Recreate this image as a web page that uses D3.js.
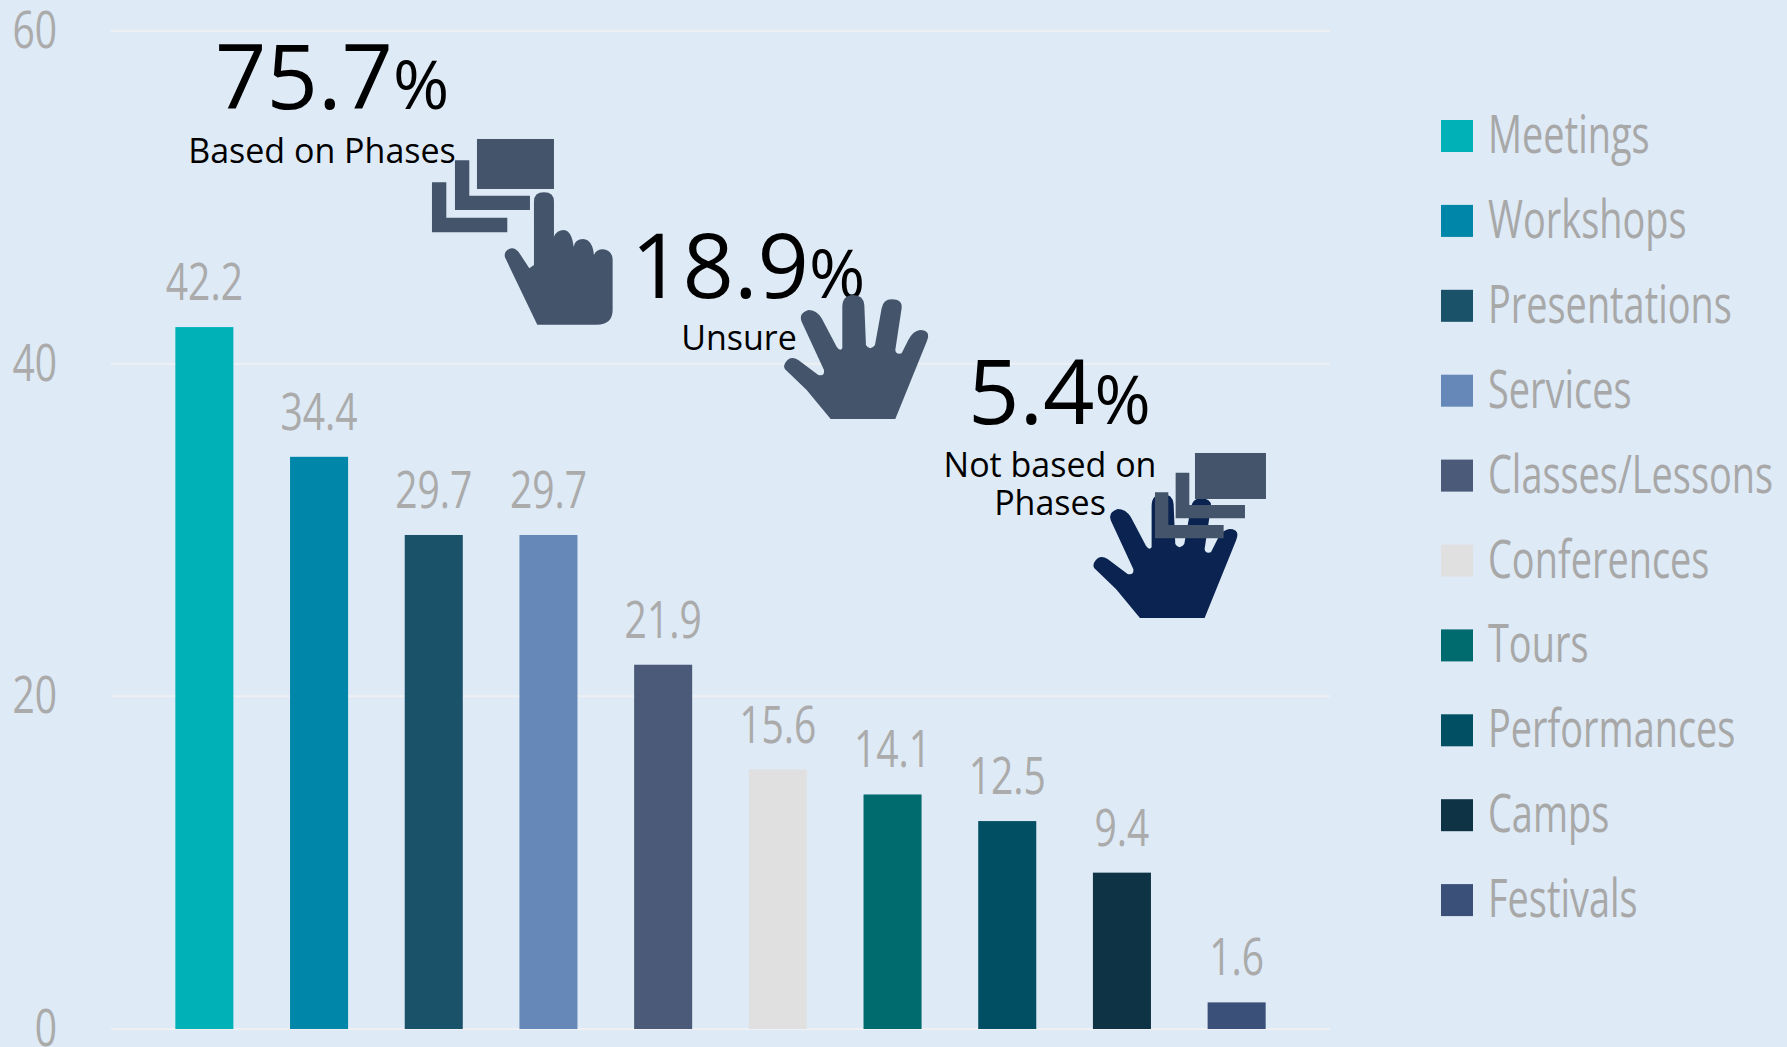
<!DOCTYPE html>
<html><head><meta charset="utf-8">
<script src="https://cdn.jsdelivr.net/npm/d3@7"></script>
<style>html,body{margin:0;padding:0;background:#DEEAF6;overflow:hidden}svg{display:block}</style>
</head><body><svg id="c" width="1787" height="1047"></svg>
<script>
const categories=["Meetings","Workshops","Presentations","Services","Classes/Lessons","Conferences","Tours","Performances","Camps","Festivals"];
const values=[42.2,34.4,29.7,29.7,21.9,15.6,14.1,12.5,9.4,1.6];
const colors=["#00B2B8","#0086A8","#1A5269","#6688B8","#4A5A78","#E0E0E0","#006B6E","#004F63","#0E3345","#3A5078"];
const yTicks=[0,20,40,60];

const sans="'Open Sans',sans-serif";
const gray="#ABABAB";
const squeeze=0.75;
const svg=d3.select("#c");
const x=d3.scaleBand().domain(categories).range([111,1330]).paddingInner(0.494).paddingOuter(0.561);
const y=d3.scaleLinear().domain([0,60]).range([1029,31]);

svg.append("g").selectAll("line").data(yTicks).join("line")
  .attr("x1",111).attr("x2",1330).attr("y1",d=>y(d)).attr("y2",d=>y(d))
  .attr("stroke","#EEF0F3").attr("stroke-width",2);
svg.append("g").selectAll("text").data(yTicks).join("text")
  .attr("transform",d=>`translate(57,${y(d)+17}) scale(${squeeze},1)`).attr("text-anchor","end")
  .attr("font-family",sans).attr("font-size",52).attr("fill",gray).text(d=>d);

svg.append("g").selectAll("rect").data(values).join("rect")
  .attr("x",(d,i)=>x(categories[i])).attr("width",x.bandwidth())
  .attr("y",d=>y(d)).attr("height",d=>y(0)-y(d)).attr("fill",(d,i)=>colors[i]);
svg.append("g").selectAll("text").data(values).join("text")
  .attr("transform",(d,i)=>`translate(${x(categories[i])+x.bandwidth()/2},${y(d)-27}) scale(${squeeze},1)`).attr("text-anchor","middle")
  .attr("font-family",sans).attr("font-size",52).attr("fill",gray).text(d=>d.toFixed(1));

const leg=svg.append("g").selectAll("g").data(categories).join("g")
  .attr("transform",(d,i)=>`translate(1441,${120+i*84.9})`);
leg.append("rect").attr("width",32).attr("height",32).attr("fill",(d,i)=>colors[i]);
leg.append("text").attr("transform",`translate(47,33) scale(0.715,1)`).attr("font-family",sans).attr("font-size",53).attr("fill","#A8A8A8").text(d=>d);

function big(xp,yp,num,sz,pct){
  const t=svg.append("text").attr("x",xp).attr("y",yp).attr("font-family",sans).attr("fill","#000");
  t.append("tspan").attr("font-size",sz).text(num);
  t.append("tspan").attr("font-size",pct).text("%");
}
function small(xp,yp,s){
  svg.append("text").attr("x",xp).attr("y",yp).attr("text-anchor","middle").attr("font-family",sans)
    .attr("font-size",34).attr("fill","#000").text(s);
}
big(215,109,"75.7",90,68); small(322,163,"Based on Phases");
big(631,298,"18.9",90,68); small(739,350,"Unsure");
big(968,424,"5.4",90,68); small(1050,477,"Not based on"); small(1050,515,"Phases");

const handOpen="M632,627 L826,627 L920,395 Q935,360 900,360 Q880,362 865,390 L845,430 Q828,435 826,420 L845,295 Q848,268 815,268 Q790,268 785,295 L765,405 Q750,425 738,405 L733,285 Q730,255 700,255 Q668,255 667,290 L667,415 Q660,425 650,410 L605,325 Q590,300 565,300 Q535,310 545,335 L612,480 Q615,500 595,495 L535,450 Q510,435 495,460 Q488,475 500,482 L560,540 Z";
const handPoint="M1092,545 Q1092,517 1122,517 Q1152,517 1152,545 L1152,650 Q1160,630 1182,630 Q1205,632 1211,680 Q1215,657 1240,657 Q1268,660 1272,705 Q1278,688 1300,688 Q1328,692 1328,720 L1328,870 Q1328,914 1280,914 L1102,914 L1005,712 Q1000,690 1025,685 Q1040,685 1050,702 L1078,745 L1092,735 Z";
const hc="#44546A";
const g1=svg.append("g").attr("transform","translate(170,20) scale(0.3333)").attr("fill",hc);
g1.append("path").attr("d",handPoint);
g1.append("rect").attr("x",921).attr("y",357).attr("width",231).attr("height",150);
g1.append("path").attr("d","M855,421 L898,421 L898,527 L1080,527 L1080,570 L855,570 Z");
g1.append("path").attr("d","M786,487 L829,487 L829,593 L1012,593 L1012,637 L786,637 Z");

svg.append("g").attr("transform","translate(620,210) scale(0.3333)").attr("fill",hc).append("path").attr("d",handOpen);
svg.append("g").attr("transform","translate(929.3,409) scale(0.3333)").attr("fill","#0A2351").append("path").attr("d",handOpen);

const g3=svg.append("g").attr("transform","translate(930,340) scale(0.3333)").attr("fill",hc);
g3.append("rect").attr("x",795).attr("y",339).attr("width",213).attr("height",138);
g3.append("path").attr("d","M737,398 L778,398 L778,495 L945,495 L945,535 L737,535 Z");
g3.append("path").attr("d","M675,457 L715,457 L715,555 L881,555 L881,595 L675,595 Z");
</script></body></html>
